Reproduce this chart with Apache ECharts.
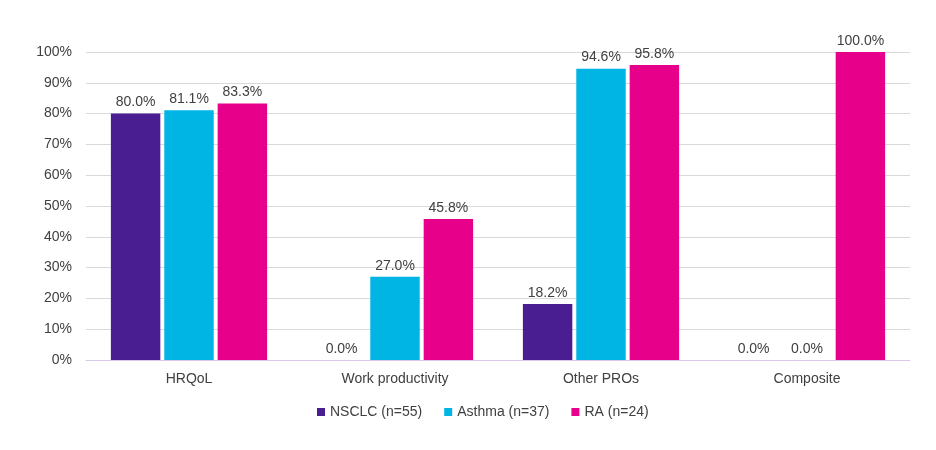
<!DOCTYPE html>
<html>
<head>
<meta charset="utf-8">
<script src="https://cdn.jsdelivr.net/npm/echarts@6/dist/echarts.min.js"></script>
<style>
  html, body { margin: 0; padding: 0; background: #fff; }
  #main { width: 936px; height: 450px; }
</style>
</head>
<body>
<div id="main"></div>
<script>
var categories = ['HRQoL', 'Work productivity', 'Other PROs', 'Composite'];
var seriesNames = ['NSCLC (n=55)', 'Asthma (n=37)', 'RA (n=24)'];
var nsclc = [80.0, 0.0, 18.2, 0.0];
var asthma = [81.1, 27.0, 94.6, 0.0];
var ra = [83.3, 45.8, 95.8, 100.0];
var colors = ['#481E91', '#00B4E4', '#E6008A'];

var chart = echarts.init(document.getElementById('main'));

var font = 'Liberation Sans, Arial, sans-serif';

function makeSeries(name, data, color) {
    return {
        name: name,
        type: 'bar',
        data: data,
        barWidth: '24%',
        barGap: '8%',
        itemStyle: { color: color },
        label: {
            show: true,
            position: 'top',
            distance: 4,
            color: '#404040',
            fontSize: 14,
            fontFamily: font,
            formatter: function (p) { return p.value.toFixed(1) + '%'; }
        }
    };
}

var option = {
    animation: false,
    textStyle: { fontFamily: font },
    color: colors,
    grid: { left: 86, right: 26, top: 52, bottom: 90 },
    legend: {
        data: seriesNames,
        bottom: 26,
        left: 312,
        icon: 'rect',
        itemWidth: 8,
        itemHeight: 8,
        itemGap: 22,
        itemStyle: { borderWidth: 0 },
        textStyle: { color: '#404040', fontSize: 14, fontFamily: font }
    },
    xAxis: {
        type: 'category',
        data: categories,
        axisLine: { lineStyle: { color: '#D9C9EA' } },
        axisTick: { show: false },
        axisLabel: { color: '#404040', fontSize: 14, margin: 12, fontFamily: font }
    },
    yAxis: {
        type: 'value',
        min: 0,
        max: 100,
        interval: 10,
        axisLabel: { color: '#404040', fontSize: 14, margin: 14, formatter: '{value}%', fontFamily: font },
        splitLine: { lineStyle: { color: '#D9D9D9' } },
        axisLine: { show: false },
        axisTick: { show: false }
    },
    series: [
        makeSeries(seriesNames[0], nsclc, colors[0]),
        makeSeries(seriesNames[1], asthma, colors[1]),
        makeSeries(seriesNames[2], ra, colors[2])
    ]
};

chart.setOption(option);
</script>
</body>
</html>
